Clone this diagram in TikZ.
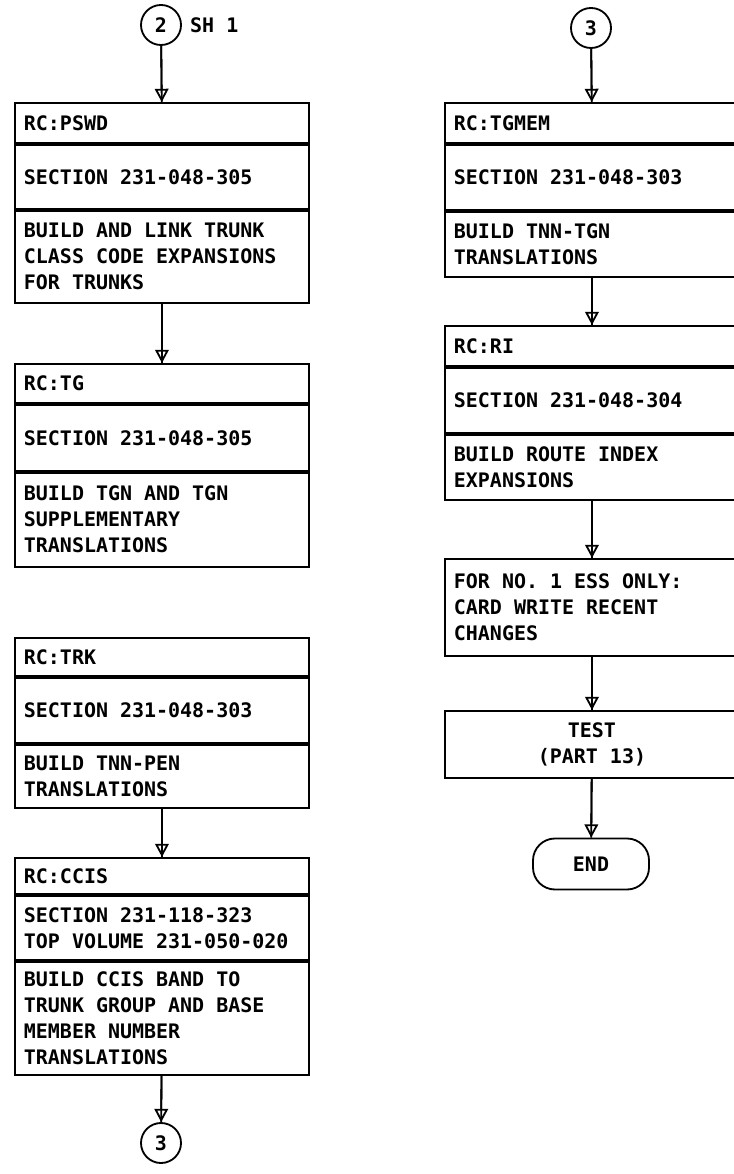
\documentclass[tikz,border=0pt]{standalone}
\usepackage{fontspec}
\usetikzlibrary{arrows.meta,positioning}
\newfontfamily\chartfont{DejaVu Sans Mono}
\newcommand\lettering{\chartfont\bfseries\fontsize{14.2pt}{18.5pt}\selectfont
    \frenchspacing\spaceskip=0.602em\relax\xspaceskip=0.602em\relax}

\begin{document}
\begin{tikzpicture}[x=0.025cm, y=-0.025cm]
        \tikzset{cell/.style={draw, line width=1.3pt, anchor=north west,
            minimum width=7.35cm, text width=6.9cm, inner xsep=0.225cm,
            inner ysep=0pt, align=flush left, font=\lettering},
        conn/.style={draw, circle, line width=1.3pt, minimum size=1cm,
            inner sep=0pt, font=\lettering},
        term/.style={draw, line width=1.3pt, rounded corners=0.55cm,
            minimum width=2.9cm, minimum height=1.275cm, font=\lettering},
        flow/.style={line width=1.3pt,
            -{Triangle[open, length=0.33cm, width=0.34cm]},
            postaction={draw, -}}}
        \useasboundingbox (0,0) rectangle (733,1174);
        % left column
        \node[conn] (c2) at (161,25) {2};
        \node[right=0.2cm of c2, inner sep=0pt, font=\lettering] (sh) {SH 1};
        \node[cell, minimum height=1cm] (pswd1) at (14,102) {RC:PSWD};
        \node[cell, minimum height=1.6cm] (pswd2) at (pswd1.south west) {SECTION 231-048-305};
        \node[cell, minimum height=2.3cm] (pswd3) at (pswd2.south west)
            {BUILD AND LINK TRUNK\\CLASS CODE EXPANSIONS\\FOR TRUNKS};
        \node[cell, minimum height=0.975cm] (tg1) at (14,363) {RC:TG};
        \node[cell, minimum height=1.65cm] (tg2) at (tg1.south west) {SECTION 231-048-305};
        \node[cell, minimum height=2.35cm] (tg3) at (tg2.south west)
            {BUILD TGN AND TGN\\SUPPLEMENTARY\\TRANSLATIONS};
        \node[cell, minimum height=0.95cm] (trk1) at (14,637) {RC:TRK};
        \node[cell, minimum height=1.625cm] (trk2) at (trk1.south west) {SECTION 231-048-303};
        \node[cell, minimum height=1.575cm] (trk3) at (trk2.south west)
            {BUILD TNN-PEN\\TRANSLATIONS};
        \node[cell, minimum height=0.9cm] (ccis1) at (14,857) {RC:CCIS};
        \node[cell, minimum height=1.6cm] (ccis2) at (ccis1.south west)
            {SECTION 231-118-323\\TOP VOLUME 231-050-020};
        \node[cell, minimum height=2.825cm] (ccis3) at (ccis2.south west)
            {BUILD CCIS BAND TO\\TRUNK GROUP AND BASE\\MEMBER NUMBER\\TRANSLATIONS};
        \node[conn] (c3b) at (161,1143) {3};
        % right column
        \node[conn] (c3a) at (591,28) {3};
        \node[cell, minimum height=1cm] (tgmem1) at (444,102) {RC:TGMEM};
        \node[cell, minimum height=1.625cm] (tgmem2) at (tgmem1.south west) {SECTION 231-048-303};
        \node[cell, minimum height=1.625cm] (tgmem3) at (tgmem2.south west)
            {BUILD TNN-TGN\\TRANSLATIONS};
        \node[cell, minimum height=1cm] (ri1) at (444,325) {RC:RI};
        \node[cell, minimum height=1.625cm] (ri2) at (ri1.south west) {SECTION 231-048-304};
        \node[cell, minimum height=1.625cm] (ri3) at (ri2.south west)
            {BUILD ROUTE INDEX\\EXPANSIONS};
        \node[cell, minimum height=2.425cm] (ess) at (444,558)
            {FOR NO. 1 ESS ONLY:\\CARD WRITE RECENT\\CHANGES};
        \node[cell, minimum height=1.675cm, align=flush center] (test) at (444,710)
            {TEST\\(PART 13)};
        \node[term] (end) at (591,864) {END};
        % connectors
        \draw[flow] (c2) -- (pswd1);
        \draw[flow] (pswd3) -- (tg1);
        \draw[flow] (trk3) -- (ccis1);
        \draw[flow] (ccis3) -- (c3b);
        \draw[flow] (c3a) -- (tgmem1);
        \draw[flow] (tgmem3) -- (ri1);
        \draw[flow] (ri3) -- (ess);
        \draw[flow] (ess) -- (test);
        \draw[flow] (test) -- (end);
\end{tikzpicture}
\end{document}
